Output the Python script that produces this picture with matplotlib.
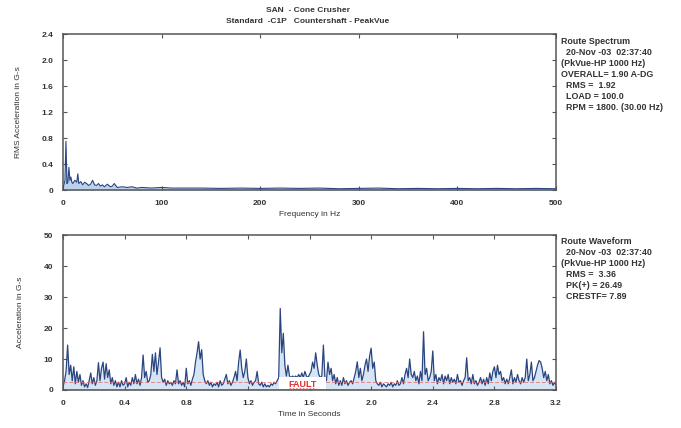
import matplotlib
matplotlib.use("Agg")
import matplotlib.pyplot as plt
import numpy as np
from matplotlib.patches import Rectangle

plt.rcParams["font.family"] = ["Liberation Sans", "DejaVu Sans"]
plt.rcParams["font.weight"] = "bold"

# route spectrum, PeakVue (Hz, G-s)
spec_f = [0, 2, 3, 4, 5, 6, 7, 8, 9, 10, 12, 14, 15, 16, 18, 20, 22, 24, 26, 28,
          30, 32, 34, 36, 38, 40, 42, 45, 48, 50, 52, 55, 60, 65, 70, 75, 80, 90, 100, 110,
          120, 140, 160, 180, 200, 220, 240, 260, 280, 300, 320, 340, 360, 380, 400, 420,
          440, 460, 480, 500]
spec_a = [0.02, 0.15, 0.75, 0.10, 0.12, 0.35, 0.15, 0.20, 0.12, 0.10, 0.15, 0.12, 0.25, 0.10, 0.13,
          0.08, 0.12, 0.10, 0.07, 0.09, 0.15, 0.08, 0.07, 0.10, 0.06, 0.08, 0.05, 0.09, 0.05, 0.06,
          0.10, 0.04, 0.05, 0.04, 0.05, 0.03, 0.04, 0.03, 0.04, 0.03, 0.03, 0.03, 0.025, 0.03, 0.025,
          0.03, 0.025, 0.03, 0.02, 0.025, 0.03, 0.02, 0.025, 0.02, 0.025, 0.02, 0.025, 0.02, 0.025, 0.02]

# route waveform, one value every 0.01 s (G-s)
wave_v = [
    1, 3, 6, 14.5, 5, 8, 3, 7.5, 2, 6, 2.5, 5, 1.5, 3, 1, 2, 0.8, 3, 5.5, 2,
    4, 1.5, 3, 8.8, 3, 7, 9, 3.5, 8.5, 4, 6.5, 2, 4, 1.5, 3, 1, 2.5, 1, 3, 1.5,
    2, 4, 1, 2.5, 1.5, 4, 2, 5, 2, 3.5, 1.5, 4, 11.3, 4, 6, 2.5, 3, 5, 11.5, 6,
    12, 5, 9, 13.6, 4, 2.5, 3.5, 1.5, 3, 2, 2.5, 1.5, 3, 2, 6.5, 2, 3, 1.5, 2.5, 1,
    7, 2, 3, 1.5, 3.5, 5, 9, 12, 15.6, 10, 13, 5, 3, 2, 3, 1.5, 2.5, 1, 2, 1.5,
    2.5, 1, 3, 1.5, 2, 3.5, 5, 2, 3, 1.5, 2.5, 4, 6, 3, 9, 12.9, 7, 4, 6, 10,
    4, 2, 3, 1.5, 2.5, 3, 6, 2, 1.5, 2.5, 1, 2, 1, 1.5, 1, 2, 1.5, 2.5, 2, 3,
    4, 26.3, 12, 18.3, 8, 4.5, 8, 4.5, 4, 4.5, 4, 4.5, 4, 5, 4, 5.5, 4, 6, 4.5, 4,
    5, 6, 9, 7, 12, 8, 5, 4, 4.5, 14.5, 4, 3, 9, 5, 7, 3, 5, 2, 4, 1.5,
    3, 1.5, 4, 2, 3, 1.5, 2.5, 3, 2, 4, 6, 9.1, 4, 7, 3, 5, 8, 10, 6, 11,
    13.5, 7, 9, 3, 2, 1.5, 2.5, 1, 2, 1.5, 1, 2, 1.5, 2.5, 1, 2, 1.5, 3, 1.5, 2,
    4, 2, 5, 7, 4, 10, 5, 4, 6, 3, 4.5, 2, 6, 3, 18.8, 5, 7, 3, 4, 6,
    12.6, 3, 5, 2, 4, 3, 5, 2, 4.5, 3, 5, 2, 4, 2.5, 3.5, 2, 5, 2.5, 3, 1.5,
    3, 4, 10.4, 3, 4, 2, 5, 2, 3, 1.5, 2.5, 4, 2, 3.5, 1.5, 4, 2, 5.5, 3, 6,
    7.5, 4, 8, 5, 6, 3, 4, 2, 3.5, 2, 4, 6.5, 2, 4, 2.5, 5, 3, 2, 4, 2.5,
    4, 10, 3, 5, 9, 3, 4, 6, 8, 9.5, 9, 7, 4, 6, 3, 5, 2, 3, 1.5, 2.5,
    1.5,
]
wave_t = np.arange(len(wave_v)) * 0.01

fault_level = 2.5
spec_info = ["Route Spectrum", "  20-Nov -03  02:37:40", "(PkVue-HP 1000 Hz)",
             "OVERALL= 1.90 A-DG", "  RMS =  1.92", "  LOAD = 100.0", "  RPM = 1800. (30.00 Hz)"]
wave_info = ["Route Waveform", "  20-Nov -03  02:37:40", "(PkVue-HP 1000 Hz)",
             "  RMS =  3.36", "  PK(+) = 26.49", "  CRESTF= 7.89"]

line_c = "#2a4580"
fill_c = "#8fb3e0"
txt_c = "#333333"
fs = 6

fig = plt.figure(figsize=(6.81, 4.28), dpi=100)
ax1 = fig.add_axes([0.0925, 0.556, 0.724, 0.3645])
ax2 = fig.add_axes([0.0925, 0.0888, 0.724, 0.362])

for ax in (ax1, ax2):
    for s in ax.spines.values():
        s.set_color("#555555")
        s.set_linewidth(1.1)
    ax.tick_params(direction="in", top=True, right=True, length=3, width=0.8,
                   colors="#555555", labelcolor=txt_c, labelsize=fs, pad=7)

# spectrum
ax1.fill_between(spec_f, 0, spec_a, color=fill_c, alpha=0.6, lw=0)
ax1.plot(spec_f, spec_a, color=line_c, lw=0.8)
ax1.set_xlim(0, 500)
ax1.set_ylim(0, 2.4)
ax1.set_xticks([0, 100, 200, 300, 400, 500])
ax1.set_yticks([0, 0.4, 0.8, 1.2, 1.6, 2.0, 2.4])
ax1.set_yticklabels(["0", "0.4", "0.8", "1.2", "1.6", "2.0", "2.4"])
ax1.set_xlabel("Frequency in Hz", fontsize=fs, color=txt_c, labelpad=3)
ax1.set_ylabel("RMS Acceleration in G-s", fontsize=fs, color=txt_c, labelpad=14)

# waveform
ax2.fill_between(wave_t, 0, wave_v, color=fill_c, alpha=0.35, lw=0)
ax2.plot(wave_t, wave_v, color=line_c, lw=0.9)
ax2.axhline(fault_level, color="#e07070", lw=0.7, ls=(0, (4, 2)), alpha=0.8)
ax2.axhline(0.4, color="#e07070", lw=0.6, alpha=0.6)
ax2.add_patch(Rectangle((1.405, 0.2), 0.305, 4.1, facecolor="white", edgecolor="none", zorder=3))
ax2.text(1.555, 1.8, "FAULT", color="#e03030", fontsize=fs + 0.5, ha="center", va="center", zorder=4)
ax2.plot([1.47, 1.64], [0.5, 0.5], color="#e07070", lw=0.6, ls=(0, (2, 2)), zorder=4)
ax2.set_xlim(0, 3.2)
ax2.set_ylim(0, 50)
ax2.set_xticks([0, 0.4, 0.8, 1.2, 1.6, 2.0, 2.4, 2.8, 3.2])
ax2.set_xticklabels(["0", "0.4", "0.8", "1.2", "1.6", "2.0", "2.4", "2.8", "3.2"])
ax2.set_yticks([0, 10, 20, 30, 40, 50])
ax2.set_xlabel("Time in Seconds", fontsize=fs, color=txt_c, labelpad=3)
ax2.set_ylabel("Acceleration in G-s", fontsize=fs, color=txt_c, labelpad=14)

# titles and info blocks
fig.text(0.452, 0.976, "SAN  - Cone Crusher", fontsize=fs, color=txt_c, ha="center", va="center")
fig.text(0.452, 0.949, "Standard  -C1P   Countershaft - PeakVue", fontsize=fs, color=txt_c,
         ha="center", va="center")
for i, s in enumerate(spec_info):
    fig.text(0.824, 0.902 - i * 0.0255, s, fontsize=fs + 0.4, color=txt_c, va="center")
for i, s in enumerate(wave_info):
    fig.text(0.824, 0.435 - i * 0.0255, s, fontsize=fs + 0.4, color=txt_c, va="center")

fig.savefig("out.png", dpi=100, facecolor="white")
